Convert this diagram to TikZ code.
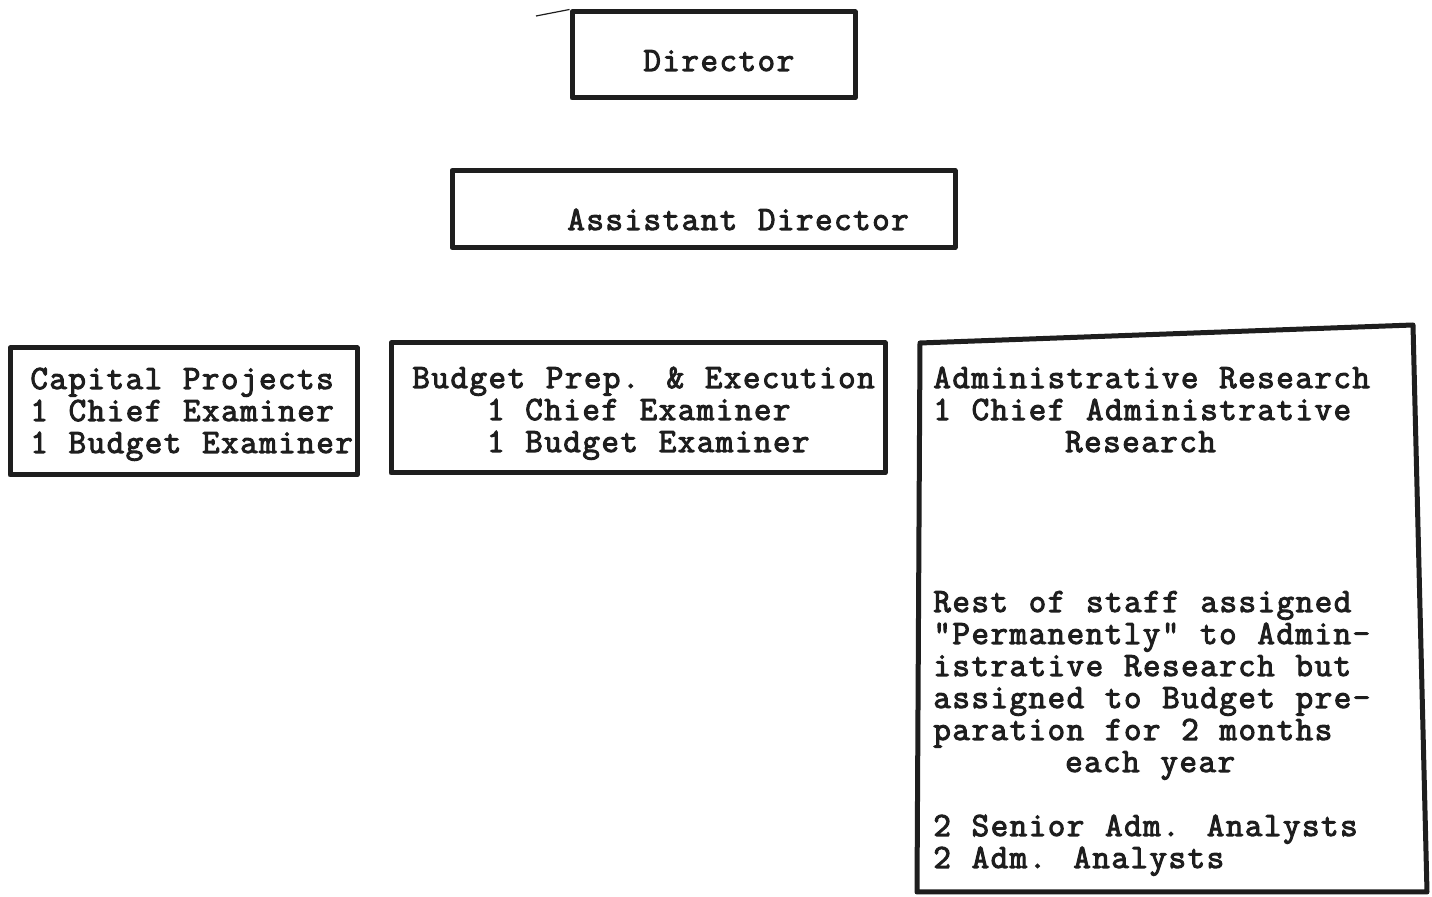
\documentclass[tikz,border=0pt]{standalone}
\usepackage{fontspec}
\newfontfamily\tw[FakeBold=3,LetterSpace=4.5,WordSpace=1.09]{Latin Modern Mono}
\definecolor{ink}{HTML}{1E1E1E}
\begin{document}
\begin{tikzpicture}[x=0.5pt,y=-0.5pt,
  box/.style={draw=ink, line width=2.5pt, line join=round, inner sep=0pt},
  txt/.style={inner sep=0pt, anchor=base west, text=ink, align=left,
              font=\tw\fontsize{17}{16}\selectfont}]
\useasboundingbox[fill=white] (0,0) rectangle (1432,897);

% boxes
\node[box, minimum width=141.5pt, minimum height=43pt]   (dir)  at (713.5,55)  {};
\node[box, minimum width=251.5pt, minimum height=38.5pt] (adir) at (703.5,209) {};
\node[box, minimum width=173.5pt, minimum height=63.5pt] (cap)  at (183.5,411.5) {};
\node[box, minimum width=247pt,   minimum height=65pt]   (bud)  at (638,408) {};
\coordinate (arTL) at (920,343);
\coordinate (arTR) at (1413,325);
\coordinate (arBR) at (1427,892);
\coordinate (arBL) at (917,892);
\draw[draw=ink, line width=2.5pt, line join=round] (arTL) -- (arTR) -- (arBR) -- (arBL) -- cycle;

% stray typewriter mark
\coordinate (m1) at (536,16);
\draw[ink, line width=0.6pt] (m1) -- (dir.north west);

% texts (base anchor = baseline of the last line)
\node[txt] (tdir) at (643,71) {Director};
\node[txt] (tadir) at (567,230) {Assistant Director};
\node[txt] (tcap) at (30,453) {Capital Projects\\1 Chief Examiner\\1 Budget Examiner};
\node[txt] (tbud) at (412,452) {Budget Prep. \& Execution\\\phantom{1234}1 Chief Examiner\\\phantom{1234}1 Budget Examiner};
\node[txt] (tar) at (933,868) {Administrative Research\\1 Chief Administrative\\\phantom{1234567}Research\\ \\ \\ \\ \\
Rest of staff assigned\\"Permanently" to Admin-\\istrative Research but\\assigned to Budget pre-\\paration for 2 months\\\phantom{1234567}each year\\ \\
2 Senior Adm. Analysts\\2 Adm. Analysts};
\end{tikzpicture}
\end{document}
